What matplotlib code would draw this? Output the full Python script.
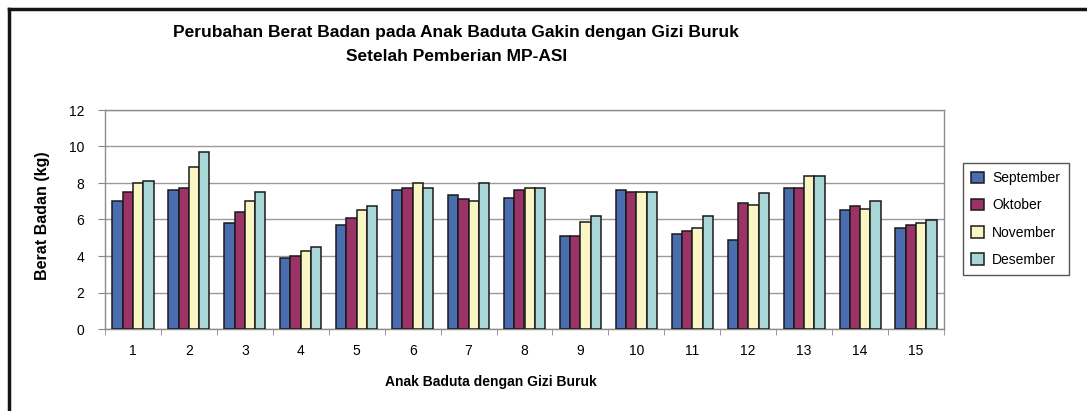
import numpy as np
import matplotlib
matplotlib.use("Agg")
import matplotlib.pyplot as plt
from matplotlib.lines import Line2D

plt.rcParams["font.family"] = ["Liberation Sans", "DejaVu Sans"]

children = [str(i) for i in range(1, 16)]
months = ["September", "Oktober", "November", "Desember"]
september = [7.0, 7.6, 5.8, 3.9, 5.7, 7.6, 7.35, 7.2, 5.1, 7.6, 5.2, 4.85, 7.7, 6.5, 5.55]
oktober = [7.5, 7.75, 6.4, 4.0, 6.1, 7.75, 7.1, 7.6, 5.1, 7.5, 5.35, 6.9, 7.75, 6.75, 5.7]
november = [8.0, 8.9, 7.0, 4.25, 6.5, 8.0, 7.0, 7.75, 5.85, 7.5, 5.55, 6.8, 8.4, 6.6, 5.8]
desember = [8.1, 9.7, 7.5, 4.5, 6.75, 7.75, 8.0, 7.7, 6.2, 7.5, 6.2, 7.45, 8.4, 7.0, 5.95]
series = [september, oktober, november, desember]
colors = ["#4A6DAF", "#9C3366", "#FAF6C3", "#A9D7D8"]

W, H = 1087, 411
fig = plt.figure(figsize=(W / 100, H / 100), dpi=100)
ax = fig.add_axes([105 / W, 1 - 329 / H, (944 - 105) / W, (329 - 110) / H])

x = np.arange(1, len(children) + 1)
bw = 0.184
for i, (vals, col, name) in enumerate(zip(series, colors, months)):
    ax.bar(x + (i - 1.5) * bw, vals, width=bw, color=col, edgecolor="#1a1a1a",
           linewidth=1.1, label=name, zorder=3)

ax.set_xlim(0.5, len(children) + 0.5)
ax.set_ylim(0, 12)
ax.set_yticks(range(0, 13, 2))
ax.yaxis.grid(True, color="#9a9a9a", linewidth=1.0, zorder=0)
ax.set_xticks(x)
ax.set_xticklabels(children)
ax.set_xticks(np.arange(0.5, len(children) + 1), minor=True)
ax.tick_params(axis="x", which="major", length=0, pad=11, labelsize=10)
ax.tick_params(axis="x", which="minor", length=4, direction="out", color="#888888")
ax.tick_params(axis="y", length=5, direction="out", color="#888888", labelsize=10, pad=10)
for s in ax.spines.values():
    s.set_color("#8c8c8c")
    s.set_linewidth(1.0)

fig.text(491 / W, 1 - 382 / H, "Anak Baduta dengan Gizi Buruk", ha="center",
         va="center", fontsize=10, fontweight="bold")
fig.text(42 / W, 1 - 216 / H, "Berat Badan (kg)", ha="center", va="center",
         rotation=90, fontsize=11.5, fontweight="bold")

title_font = ["Liberation Sans Narrow", "Liberation Sans", "DejaVu Sans"]
fig.text(456 / W, 1 - 33 / H, "Perubahan Berat Badan pada Anak Baduta Gakin dengan Gizi Buruk",
         ha="center", va="center", fontsize=12.5, fontweight="bold", family=title_font)
fig.text(457 / W, 1 - 56 / H, "Setelah Pemberian MP-ASI", ha="center", va="center",
         fontsize=12.5, fontweight="bold", family=title_font)

leg = fig.legend(loc="center left", bbox_to_anchor=(963 / W, 1 - 219 / H),
                 borderaxespad=0, fontsize=10, handlelength=0.9, handleheight=0.9,
                 handletextpad=0.6, labelspacing=0.95, borderpad=0.6,
                 fancybox=False, framealpha=1)
leg.get_frame().set_edgecolor("#555555")
leg.get_frame().set_linewidth(1.0)

# thick frame around the chart area (top and left visible)
fig.add_artist(Line2D([8.5 / W, 1], [1 - 9.5 / H, 1 - 9.5 / H], color="#141414", linewidth=2.5))
fig.add_artist(Line2D([8.5 / W, 8.5 / W], [0, 1 - 9.5 / H], color="#141414", linewidth=2.5))

fig.savefig("out.png", dpi=100)
